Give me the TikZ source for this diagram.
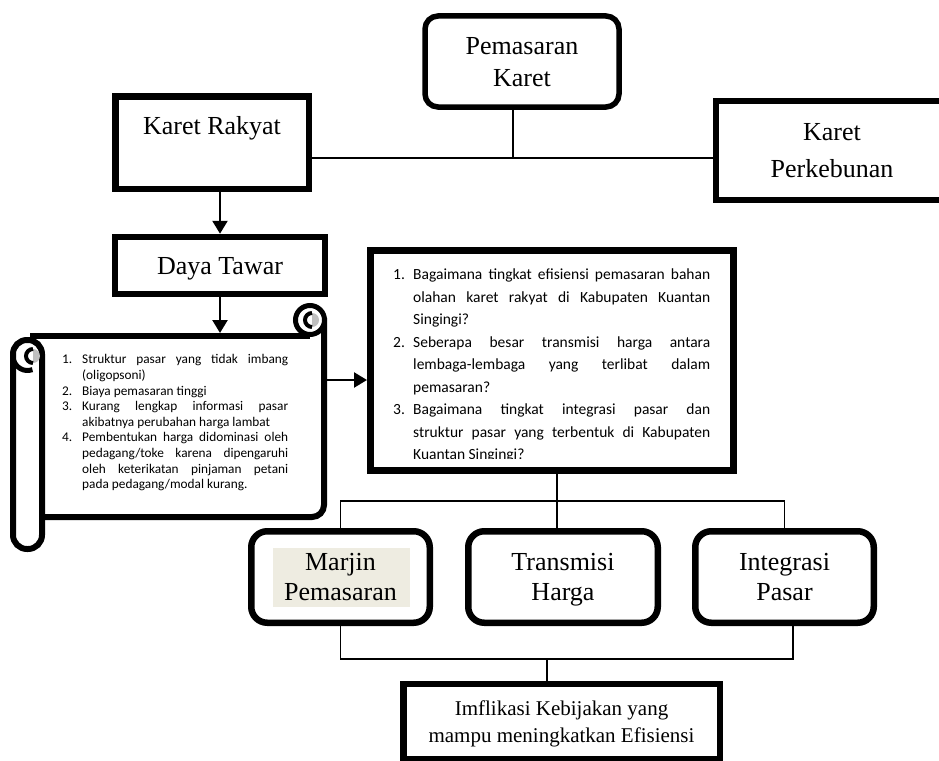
\documentclass[tikz,border=0pt]{standalone}
\usepackage{fontspec}
\setmainfont{Liberation Serif}
\newfontfamily\calibri{Carlito}
\usetikzlibrary{arrows.meta,positioning}
\definecolor{sorot}{HTML}{EEECE1}
\definecolor{abu}{HTML}{BFBFBF}
\newlength{\lekuk}
\newcommand{\butir}[2]{\par\noindent\hangindent=\lekuk\hangafter=1\makebox[\lekuk][l]{#1}#2}

\begin{document}
\begin{tikzpicture}[
	x=1pt, y=-1pt,
	kotak/.style={
		rectangle,
		draw,
		line width=6.5pt,
		inner sep=0pt,
		align=center,
		text depth=0pt,
		font=\fontsize{26}{30}\selectfont,
	},
	kotakR/.style={% rounded boxes
		kotak,
		rounded corners=16pt,
	},
	garis/.style={line width=1.8pt},
	panah/.style={
		line width=2.4pt,
		-{Triangle[length=13pt,width=15pt]},
	},
	gulung/.style={line width=6pt, rounded corners=12pt},
	daftar/.style={
		inner sep=0pt,
		anchor=north west,
		align=justify,
	},
]
	\useasboundingbox (0,0) rectangle (939,760);

	% top row
	\node [kotakR, line width=5.5pt, rounded corners=13pt, minimum width=194pt, minimum height=91pt,
		font=\fontsize{26}{32}\selectfont] (pk) at (522,61.5) {Pemasaran\\Karet};
	\node [kotak, minimum width=193.5pt, text height=38.25pt, text depth=54.25pt] (kr) at (212,142.5) {Karet Rakyat};
	\node [kotak, minimum width=232pt, minimum height=99pt,
		font=\fontsize{26}{37}\selectfont] (kp) at (832,150.5) {Karet\\Perkebunan};
	\node [kotak, minimum width=210pt, minimum height=57pt] (dt) at (220,265.5) {Daya Tawar};

	\coordinate (hub) at (513,158);
	\draw [garis] (pk.south -| hub) -- (hub);
	\draw [garis] (kr.east |- hub) -- (kp.west |- hub);
	\draw [panah] (kr.south -| dt.north) -- (dt.north);

	% scroll
	\coordinate (gulungAtas) at (220,333);
	\coordinate (gulungKanan) at (327,380);
	\draw [gulung] (30,336) -- (310,336);
	\draw [gulung] (324,318) -- (324,517) -- (27,517);
	\filldraw [line width=5pt, fill=white] (310,320) circle[radius=14.5pt];
	\fill [abu] (312,313) arc[start angle=90, end angle=-90, radius=7pt] -- cycle;
	\draw [line width=4pt] (312,313) arc[start angle=90, end angle=270, radius=7pt];
	\filldraw [gulung, rounded corners=14pt, fill=white] (13,340) rectangle (42,549);
	\fill [abu] (33,349) arc[start angle=90, end angle=-90, radius=7pt] -- cycle;
	\draw [line width=4pt] (33,349) arc[start angle=90, end angle=270, radius=7pt];
	\draw [line width=5pt] (13,356) arc[start angle=180, end angle=290, radius=14.5pt];

	\node [daftar, text width=226pt, font=\calibri\fontsize{13.3}{15.6}\selectfont] (hambatan) at (62,348) {%
		\setlength{\lekuk}{20pt}\hyphenpenalty=10000\exhyphenpenalty=10000\tolerance=9999
		\butir{1.}{Struktur pasar yang tidak imbang\linebreak (oligopsoni)}
		\butir{2.}{Biaya pemasaran tinggi}
		\butir{3.}{Kurang lengkap informasi pasar\linebreak akibatnya perubahan harga lambat}
		\butir{4.}{Pembentukan harga didominasi oleh\linebreak pedagang/toke karena dipengaruhi\linebreak oleh keterikatan pinjaman petani\linebreak pada pedagang/modal kurang.}\par};

	\draw [panah] (dt.south) -- (gulungAtas);

	% questions
	\node [kotak, line width=7pt, minimum width=363pt, minimum height=220pt] (qb) at (552,360.5) {};
	\begin{scope}
		\clip (374,254) rectangle (730,458);
		\node [daftar, text width=317pt, font=\calibri\fontsize{15.5}{22.5}\selectfont] (pertanyaan) at (393,257) {%
			\setlength{\lekuk}{20pt}\hyphenpenalty=10000\exhyphenpenalty=10000\tolerance=9999
			\butir{1.}{Bagaimana tingkat efisiensi pemasaran bahan\linebreak olahan karet rakyat di Kabupaten Kuantan\linebreak Singingi?}
			\butir{2.}{Seberapa besar transmisi harga antara\linebreak lembaga-lembaga yang terlibat dalam\linebreak pemasaran?}
			\butir{3.}{Bagaimana tingkat integrasi pasar dan\linebreak struktur pasar yang terbentuk di Kabupaten\linebreak Kuantan Singingi?}\par};
	\end{scope}
	\draw [panah] (gulungKanan) -- (gulungKanan -| qb.west);

	% analysis row
	\fill [sorot] (273,548) rectangle (410,607);
	\node [kotakR, minimum width=178.5pt, minimum height=91.5pt] (mp) at (340.5,577) {Marjin\\Pemasaran};
	\node [kotakR, minimum width=189.5pt, minimum height=91.5pt] (tr) at (563,577) {Transmisi\\Harga};
	\node [kotakR, minimum width=178.5pt, minimum height=91.5pt] (ig) at (784.5,577) {Integrasi\\Pasar};
	\node [kotak, minimum width=316.5pt, minimum height=74.75pt,
		font=\fontsize{21}{27}\selectfont] (imp) at (561.5,721.6) {Imflikasi Kebijakan yang\\mampu meningkatkan Efisiensi};

	\coordinate (cabang) at (557,501);
	\draw [garis] (qb.south -| cabang) -- (tr.north -| cabang);
	\draw [garis] (mp.north) |- (cabang) -| (ig.north);
	\coordinate (gabung) at (547,659);
	\draw [garis] (mp.south) |- (gabung) -| ([xshift=8.5pt]ig.south);
	\draw [garis] (gabung) -- (gabung |- imp.north);
\end{tikzpicture}
\end{document}
